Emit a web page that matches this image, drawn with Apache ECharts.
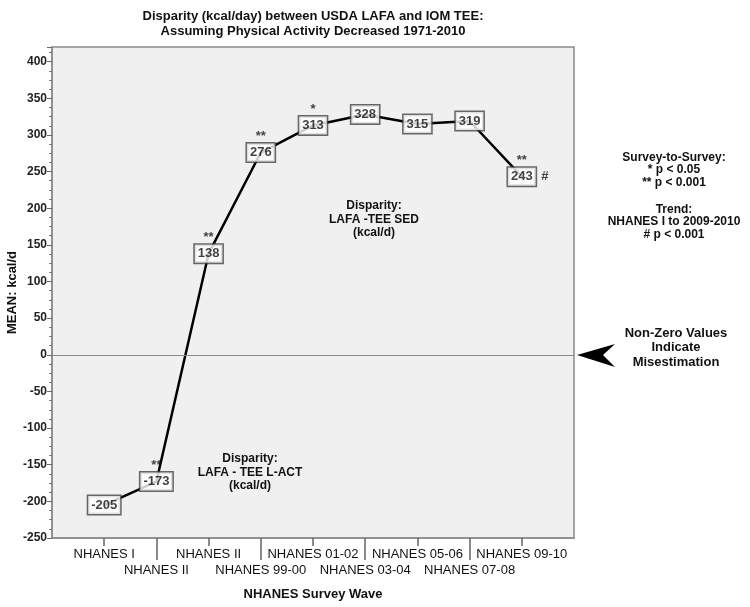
<!DOCTYPE html>
<html>
<head>
<meta charset="utf-8">
<script src="https://cdn.jsdelivr.net/npm/echarts@6/dist/echarts.min.js"></script>
<style>html,body{margin:0;padding:0;background:#fff}#c{width:750px;height:607px}</style>
</head>
<body>
<div id="c"></div>
<script>
// ---- data ----
const categories = ['NHANES I', 'NHANES II', 'NHANES II', 'NHANES 99-00', 'NHANES 01-02', 'NHANES 03-04', 'NHANES 05-06', 'NHANES 07-08', 'NHANES 09-10'];
const values = [-205, -173, 138, 276, 313, 328, 315, 319, 243];
const surveySig = ['', '**', '**', '**', '*', '', '', '', '**'];
const trendSig = ['', '', '', '', '', '', '', '', '#'];
const yTicks = [-250, -200, -150, -100, -50, 0, 50, 100, 150, 200, 250, 300, 350, 400];

const FONT = 'Liberation Sans, Arial, sans-serif';
const axisCats = [''].concat(categories, ['']);
const pts = values.map((v, i) => [i + 1, v]);
const topRow = (i) => i >= 1 && i <= 9 && i % 2 === 1;
const bottomRow = (i) => i >= 2 && i <= 8 && i % 2 === 0;

const chart = echarts.init(document.getElementById('c'), null, {renderer: 'canvas'});
chart.setOption({
  animation: false,
  backgroundColor: '#fff',
  title: {
    text: 'Disparity (kcal/day) between USDA LAFA and IOM TEE:\nAssuming Physical Activity Decreased 1971-2010',
    left: 308, top: 4, textAlign: 'center',
    textStyle: {fontFamily: FONT, fontSize: 13, fontWeight: 'bold', color: '#111', lineHeight: 15}
  },
  grid: {left: 52, right: 176, top: 47, bottom: 69, show: true, backgroundColor: '#f0f0f0', borderColor: '#8a8a8a', borderWidth: 1.5,
    containLabel: false, outerBoundsMode: 'none'},
  xAxis: [{
    type: 'category', data: axisCats, boundaryGap: false,
    name: 'NHANES Survey Wave', nameLocation: 'middle', nameGap: 50, nameMoveOverlap: false,
    nameTextStyle: {fontFamily: FONT, fontSize: 13, fontWeight: 'bold', color: '#111'},
    axisLine: {onZero: false, lineStyle: {color: '#8a8a8a', width: 1.5}},
    axisTick: {show: true, length: 8, lineStyle: {color: '#666', width: 1.5}, interval: topRow},
    axisLabel: {interval: topRow, margin: 10,
      showMinLabel: true, showMaxLabel: true, hideOverlap: false,
      fontFamily: FONT, fontSize: 13, color: '#111'},
    splitLine: {show: false}
  }, {
    type: 'category', data: axisCats, boundaryGap: false, position: 'bottom',
    axisLine: {show: false, onZero: false},
    axisTick: {show: true, length: 22, lineStyle: {color: '#666', width: 1.5}, interval: bottomRow},
    axisLabel: {interval: bottomRow, margin: 26,
      showMinLabel: true, showMaxLabel: true, hideOverlap: false,
      fontFamily: FONT, fontSize: 13, color: '#111'},
    splitLine: {show: false}
  }],
  yAxis: {
    type: 'value', min: -250, max: 420, interval: 50,
    name: 'MEAN: kcal/d', nameLocation: 'middle', nameGap: 33, nameRotate: 90, nameMoveOverlap: false,
    nameTextStyle: {fontFamily: FONT, fontSize: 13, fontWeight: 'bold', color: '#111'},
    axisLine: {show: true, onZero: false, lineStyle: {color: '#8a8a8a', width: 1.5}},
    axisTick: {show: true, length: 5, lineStyle: {color: '#666'}},
    minorTick: {show: true, splitNumber: 4, length: 3, lineStyle: {color: '#777'}},
    axisLabel: {fontFamily: FONT, fontSize: 12, fontWeight: 'bold', color: '#222', margin: 5,
      showMaxLabel: false,
      formatter: (v) => (yTicks.indexOf(v) >= 0 ? String(v) : '')},
    splitLine: {show: false}
  },
  series: [{
    type: 'line', data: pts, xAxisIndex: 0,
    symbol: 'none', lineStyle: {color: '#000', width: 2.5}, z: 2,
    markLine: {silent: true, symbol: 'none', label: {show: false},
      lineStyle: {color: '#8a8a8a', width: 1.2, type: 'solid'},
      data: [{yAxis: 0}]}
  }, {
    type: 'scatter', data: pts, symbolSize: 1, itemStyle: {color: 'rgba(0,0,0,0)'}, z: 10, zlevel: 1,
    label: {show: true, position: 'inside', formatter: (p) => String(values[p.dataIndex]),
      fontFamily: FONT, fontSize: 13, fontWeight: 'bold', color: '#111',
      backgroundColor: '#ffffff', borderColor: '#444', borderWidth: 1.5, padding: [3, 3, 2, 3]}
  }, {
    type: 'scatter', data: pts, symbolSize: 1, itemStyle: {color: 'rgba(0,0,0,0)'}, z: 10, zlevel: 1,
    label: {show: true, position: 'top', distance: 9, formatter: (p) => surveySig[p.dataIndex],
      fontFamily: FONT, fontSize: 13, fontWeight: 'bold', color: '#111'}
  }, {
    type: 'scatter', data: pts, symbolSize: 1, itemStyle: {color: 'rgba(0,0,0,0)'}, z: 10, zlevel: 1,
    label: {show: true, position: 'right', distance: 19, formatter: (p) => trendSig[p.dataIndex],
      fontFamily: FONT, fontSize: 13, fontWeight: 'bold', color: '#111'}
  }],
  graphic: [
    {type: 'text', z: 10, x: 374, y: 199, style: {text: 'Disparity:\nLAFA -TEE SED\n(kcal/d)',
      textAlign: 'center', fill: '#111', font: 'bold 12px ' + FONT, lineHeight: 13.5}},
    {type: 'text', z: 10, x: 250, y: 452, style: {text: 'Disparity:\nLAFA - TEE L-ACT\n(kcal/d)',
      textAlign: 'center', fill: '#111', font: 'bold 12px ' + FONT, lineHeight: 13.5}},
    {type: 'text', z: 10, x: 674, y: 151, style: {text: 'Survey-to-Survey:\n* p < 0.05\n** p < 0.001',
      textAlign: 'center', fill: '#111', font: 'bold 12px ' + FONT, lineHeight: 12.5}},
    {type: 'text', z: 10, x: 674, y: 203, style: {text: 'Trend:\nNHANES I to 2009-2010\n# p < 0.001',
      textAlign: 'center', fill: '#111', font: 'bold 12px ' + FONT, lineHeight: 12.5}},
    {type: 'text', z: 10, x: 676, y: 326, style: {text: 'Non-Zero Values\nIndicate\nMisestimation',
      textAlign: 'center', fill: '#111', font: 'bold 13px ' + FONT, lineHeight: 14.5}},
    {type: 'polygon', z: 10, shape: {points: [[577, 355], [615, 344], [603, 355], [615, 367]]},
      style: {fill: '#000'}}
  ]
});
</script>
</body>
</html>
